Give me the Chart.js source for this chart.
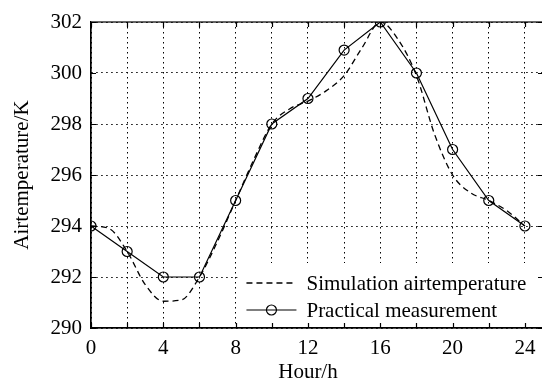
<!DOCTYPE html>
<html>
<head>
<meta charset="utf-8">
<script src="https://cdn.jsdelivr.net/npm/chart.js@4/dist/chart.umd.min.js"></script>
<style>
  html, body { margin: 0; padding: 0; background: #fff; overflow: hidden; }
  #wrap { width: 560px; height: 384px; }
</style>
</head>
<body>
<div id="wrap"><canvas id="tempChart" width="560" height="384"></canvas></div>
<script>
// Data
const measuredHours = [0, 2, 4, 6, 8, 10, 12, 14, 16, 18, 20, 22, 24];
const measuredTemp = [294, 293, 292, 292, 295, 298, 299, 300.9, 302, 300, 297, 295, 294];

const simHours = [0, 1, 2, 3, 4, 5, 6, 7, 8, 9, 10, 11, 12, 13, 14, 15, 16, 17, 18, 19, 20, 21, 22, 23, 24];
const simTemp = [294.0, 293.9, 293.0, 291.7, 291.05, 291.1, 292.0, 293.4, 295.0, 296.6, 298.0, 298.6, 298.9,
                 299.3, 299.9, 301.0, 302.0, 301.3, 299.9, 297.6, 296.0, 295.3, 295.0, 294.6, 294.0];

const yTicks = [290, 292, 294, 296, 298, 300, 302];
const xLabelStep = 4;

const FONT = "'Liberation Serif', 'Times New Roman', serif";

function toPoints(xs, ys) {
    return xs.map((x, i) => ({ x: x, y: ys[i] }));
}

// legend drawn inside the plot, lower right, plus box frame and inward ticks
const insidePlot = {
    id: "insidePlot",
    afterDatasetsDraw(chart) {
        const ctx = chart.ctx;
        const area = chart.chartArea;
        const xs = chart.scales.x;
        const ys = chart.scales.y;

        // legend
        const boxLeft = xs.getPixelForValue(8.1);
        const boxTop = area.bottom - 65;
        ctx.save();
        ctx.fillStyle = "#fff";
        ctx.fillRect(boxLeft, boxTop, area.right - boxLeft, area.bottom - boxTop - 1);
        ctx.font = "21px " + FONT;
        ctx.fillStyle = "#000";
        ctx.textBaseline = "middle";
        chart.data.datasets.forEach((ds, i) => {
            const y = boxTop + 20 + i * 27;
            const x0 = boxLeft + 9;
            const x1 = x0 + 50;
            ctx.strokeStyle = "#000";
            ctx.lineWidth = ds.borderWidth;
            ctx.setLineDash(ds.borderDash || []);
            ctx.beginPath();
            ctx.moveTo(x0, y);
            ctx.lineTo(x1, y);
            ctx.stroke();
            ctx.setLineDash([]);
            if (ds.pointRadius > 0) {
                ctx.beginPath();
                ctx.arc((x0 + x1) / 2, y, ds.pointRadius, 0, Math.PI * 2);
                ctx.stroke();
            }
            ctx.fillText(ds.label, x1 + 10, y + 1);
        });

        // frame
        ctx.lineWidth = 1.2;
        ctx.strokeStyle = "#000";
        ctx.strokeRect(area.left, area.top, area.right - area.left, area.bottom - area.top);

        // inward ticks
        const len = 5;
        ctx.beginPath();
        for (let v = 0; v <= 24; v += 2) {
            const px = Math.round(xs.getPixelForValue(v)) + 0.5;
            ctx.moveTo(px, area.top);
            ctx.lineTo(px, area.top + len);
            ctx.moveTo(px, area.bottom);
            ctx.lineTo(px, area.bottom - len);
        }
        yTicks.forEach(v => {
            const py = Math.round(ys.getPixelForValue(v)) + 0.5;
            ctx.moveTo(area.left, py);
            ctx.lineTo(area.left + len, py);
            ctx.moveTo(area.right, py);
            ctx.lineTo(area.right - len, py);
        });
        ctx.stroke();

        // x title centred on the 0-24 span
        ctx.textAlign = "center";
        ctx.textBaseline = "middle";
        ctx.fillText("Hour/h", xs.getPixelForValue(12), 372);
        ctx.restore();
    }
};

const ctx = document.getElementById("tempChart").getContext("2d");
new Chart(ctx, {
    type: "line",
    data: {
        datasets: [
            {
                label: "Simulation airtemperature",
                data: toPoints(simHours, simTemp),
                borderColor: "#000",
                borderWidth: 1.3,
                borderDash: [6, 4],
                pointRadius: 0,
                cubicInterpolationMode: "monotone",
                fill: false,
            },
            {
                label: "Practical measurement",
                data: toPoints(measuredHours, measuredTemp),
                borderColor: "#000",
                borderWidth: 1.2,
                pointRadius: 5,
                pointBorderWidth: 1.2,
                pointBorderColor: "#000",
                pointBackgroundColor: "rgba(0,0,0,0)",
                tension: 0,
                fill: false,
            },
        ],
    },
    options: {
        responsive: false,
        animation: false,
        devicePixelRatio: 1,
        layout: { padding: { top: 22, right: 17, left: 0, bottom: 0 } },
        plugins: {
            legend: { display: false },
            tooltip: { enabled: false },
        },
        scales: {
            x: {
                type: "linear",
                min: 0,
                max: 25,
                afterFit(scale) { scale.height = 56; },
                grid: { color: "#000", lineWidth: 1, drawTicks: false },
                border: { color: "#000", width: 1.2, dash: [1.5, 3.5] },
                ticks: {
                    stepSize: 2,
                    includeBounds: false,
                    padding: 8,
                    color: "#000",
                    font: { family: FONT, size: 21 },
                    maxRotation: 0,
                    autoSkip: false,
                    callback: v => (v % xLabelStep === 0 ? String(v) : ""),
                },
            },
            y: {
                min: 290,
                max: 302,
                afterFit(scale) { scale.width = 91; },
                grid: { color: "#000", lineWidth: 1, drawTicks: false },
                border: { color: "#000", width: 1.2, dash: [1.5, 3.5] },
                ticks: {
                    stepSize: 2,
                    padding: 9,
                    color: "#000",
                    font: { family: FONT, size: 21 },
                    callback: v => String(v),
                },
                title: {
                    display: true,
                    text: "Airtemperature/K",
                    color: "#000",
                    font: { family: FONT, size: 21 },
                    padding: { top: 10, bottom: 0 },
                },
            },
        },
    },
    plugins: [insidePlot],
});
</script>
</body>
</html>
